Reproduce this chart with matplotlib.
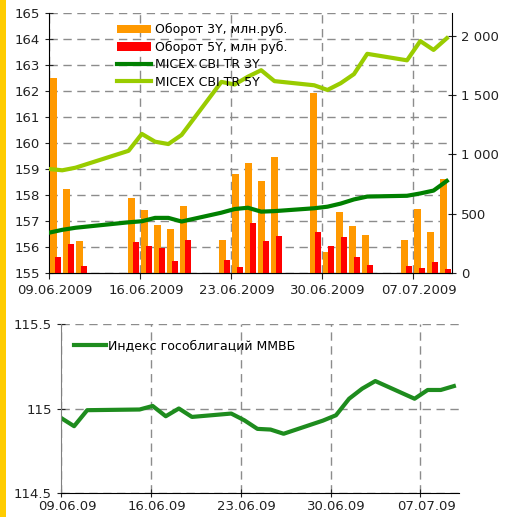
import numpy as np
import matplotlib
matplotlib.use("Agg")
import matplotlib.pyplot as plt
from matplotlib.patches import Rectangle
from matplotlib.ticker import FuncFormatter
from matplotlib.transforms import ScaledTranslation

plt.rcParams['font.family'] = ['DejaVu Sans']
plt.rcParams['font.size'] = 9

# trading days, counted in calendar days from 09.06.2009
days = np.array([0, 1, 2, 6, 7, 8, 9, 10, 13, 14, 15, 16, 17, 20, 21, 22, 23, 24, 27, 28, 29, 30])

# turnover, mln rub (right axis)
vol_3y = [1648, 709, 273, 633, 532, 405, 371, 565, 279, 838, 928, 777, 975,
          1520, 174, 511, 393, 317, 281, 542, 343, 795]
vol_5y = [135, 245, 62, 262, 228, 214, 101, 281, 110, 53, 425, 267, 315,
          343, 230, 300, 132, 70, 56, 39, 90, 31]

# MICEX CBI TR indices (left axis)
cbi_3y = [156.55, 156.66, 156.74, 156.95, 156.99, 157.12, 157.12, 156.98, 157.32, 157.46, 157.51,
          157.36, 157.38, 157.49, 157.55, 157.67, 157.83, 157.94, 157.97, 158.06, 158.17, 158.54]
cbi_5y = [159.0, 158.95, 159.05, 159.7, 160.35, 160.05, 159.96, 160.31, 162.35, 162.25, 162.55,
          162.8, 162.38, 162.22, 162.04, 162.3, 162.65, 163.43, 163.18, 163.92, 163.58, 164.03]

# MICEX government bond index
gov_idx = [114.944, 114.895, 114.99, 114.994, 115.015, 114.954, 115.0, 114.95, 114.97, 114.93, 114.879,
           114.875, 114.85, 114.928, 114.96, 115.058, 115.118, 115.163, 115.058, 115.11, 115.11, 115.133]

tick_pos = [0, 7, 14, 21, 28]
top_labels = ['09.06.2009', '16.06.2009', '23.06.2009', '30.06.2009', '07.07.2009']
bot_labels = ['09.06.09', '16.06.09', '23.06.09', '30.06.09', '07.07.09']

ORANGE = '#FF9900'
RED = '#FF0000'
DKGREEN = '#008000'
LTGREEN = '#99CC00'
GRIDC = '#8c8c8c'

W, H = 515, 517
fig = plt.figure(figsize=(W / 100, H / 100), dpi=100)
fig.patches.append(Rectangle((0, 0), 6 / W, 1, transform=fig.transFigure,
                             facecolor='#FFCC00', edgecolor='none'))

# line series sit on a slightly wider category axis than the bars
x_line = days * 1.02

# date labels are drawn a little to the right of their ticks
shift = ScaledTranslation(6 / 100, 0, fig.dpi_scale_trans)

# ---- top chart
ax = fig.add_axes([49 / W, 1 - 273 / H, (452 - 49) / W, 260 / H])
ax2 = ax.twinx()

ax.set_xlim(0, 31)
ax.set_ylim(155, 165)
ax.set_yticks(range(155, 166))
ax2.set_ylim(0, 2194)
ax2.set_yticks([0, 500, 1000, 1500, 2000])
ax2.yaxis.set_major_formatter(FuncFormatter(lambda v, p: f"{int(v):,}".replace(",", " ")))

ax.grid(True, color=GRIDC, linestyle=(0, (6, 4)), linewidth=1)
ax.set_axisbelow(True)
ax.set_xticks(tick_pos)
ax.set_xticklabels(top_labels)

b1 = ax2.bar(days + 0.08, vol_3y, width=0.5, align='edge', color=ORANGE)
b2 = ax2.bar(days + 0.44, vol_5y, width=0.52, align='edge', color=RED)
l1, = ax2.plot(x_line, cbi_3y, color=DKGREEN, lw=3, transform=ax.transData,
               solid_joinstyle='round')
l2, = ax2.plot(x_line, cbi_5y, color=LTGREEN, lw=3, transform=ax.transData,
               solid_joinstyle='round')
ax2.set_ylim(0, 2194)

for a in (ax, ax2):
    a.spines['top'].set_visible(False)
    a.tick_params(direction='inout', length=6, colors='#222222', labelsize=9.5)
ax.spines['right'].set_visible(False)
ax2.spines['left'].set_visible(False)
ax.tick_params(axis='x', direction='out', length=4, pad=4)
for lab in ax.get_xticklabels():
    lab.set_transform(lab.get_transform() + shift)

fig.legend([b1, b2, l1, l2],
           ['Оборот 3Y, млн.руб.', 'Оборот 5Y, млн руб.', 'MICEX CBI TR 3Y', 'MICEX CBI TR 5Y'],
           loc='upper left', bbox_to_anchor=(111 / W, 1 - 17 / H), bbox_transform=fig.transFigure,
           frameon=False, borderpad=0, handlelength=2.7, handleheight=0.7,
           labelspacing=0.35, handletextpad=0.35, fontsize=9)

# ---- bottom chart
bx = fig.add_axes([61 / W, 1 - 492.7 / H, (459 - 61) / W, 168.4 / H])
bx.set_xlim(0, 31)
bx.set_ylim(114.5, 115.5)
bx.set_yticks([114.5, 115, 115.5])
bx.set_yticklabels(['114.5', '115', '115.5'])
bx.set_xticks(tick_pos)
bx.set_xticklabels(bot_labels)
bx.grid(True, color=GRIDC, linestyle=(0, (6, 4)), linewidth=1)
bx.set_axisbelow(True)
bx.plot(x_line, gov_idx, color='#1E8C1E', lw=3, solid_joinstyle='round',
        label='Индекс гособлигаций ММВБ')
bx.spines['top'].set_visible(False)
bx.spines['right'].set_visible(False)
bx.spines['left'].set_color('#808080')
bx.tick_params(direction='inout', length=6, colors='#222222', labelsize=9.5)
bx.tick_params(axis='x', pad=2)
for lab in bx.get_xticklabels():
    lab.set_transform(lab.get_transform() + shift)
bx.legend(loc='upper left', bbox_to_anchor=(68 / W, 1 - 333 / H), bbox_transform=fig.transFigure,
          frameon=False, borderpad=0, handlelength=2.5, handletextpad=0.2, fontsize=9)

fig.savefig('out.png', dpi=100)
